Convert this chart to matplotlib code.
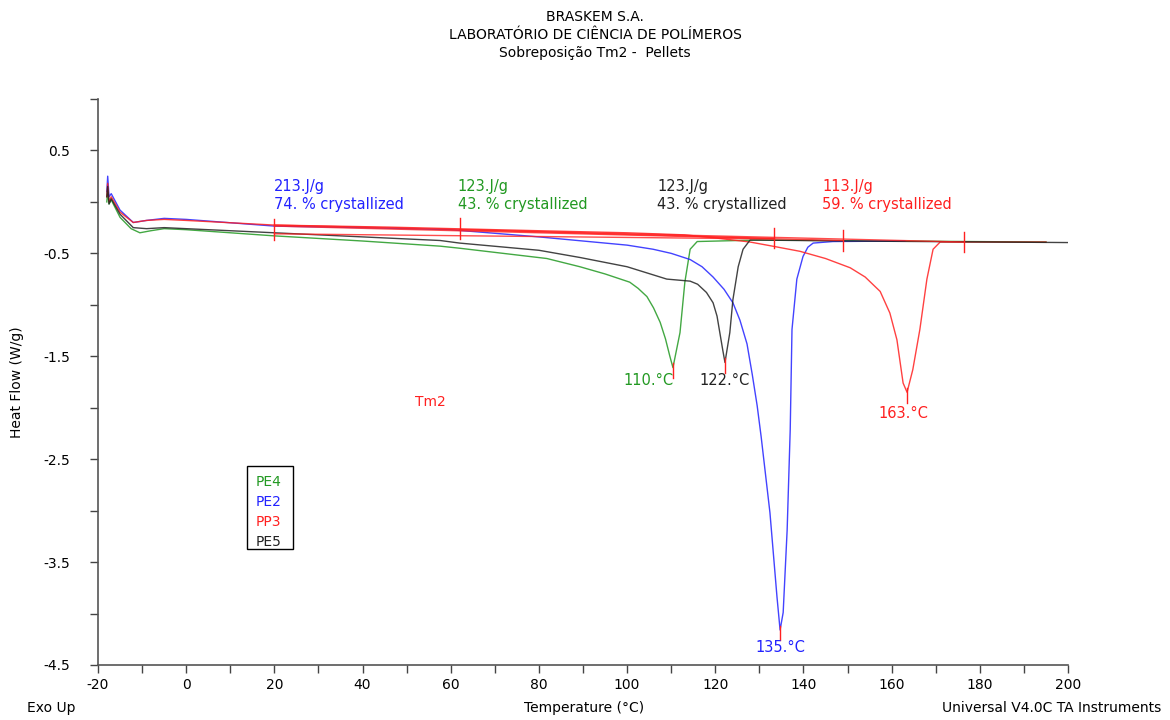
import matplotlib
matplotlib.use('Agg')
import matplotlib.pyplot as plt
from matplotlib.ticker import MultipleLocator

plt.rcParams['axes.unicode_minus'] = False

# curves read from the DSC overlay (temperature in C, heat flow in W/g)
pe4_t = [-18.0, -17.8, -17.5, -17.0, -15.0, -12.5, -10.5, -8.0, -5.0, 0.0, 10.0, 20.0, 40.0, 57.6, 62.0,
         81.8, 89.3, 95.0, 100.6, 102.5, 104.5, 106.0, 107.5, 108.7, 109.7, 110.4, 112.0, 113.1, 114.3,
         115.9, 130.0, 160.0, 195.0]
pe4_hf = [0.00, 0.10, -0.02, 0.02, -0.15, -0.26, -0.30, -0.28, -0.26, -0.27, -0.30, -0.33, -0.38, -0.43, -0.45,
          -0.55, -0.63, -0.70, -0.78, -0.84, -0.92, -1.03, -1.17, -1.33, -1.50, -1.61, -1.27, -0.78, -0.46,
          -0.385, -0.37, -0.38, -0.39]

pe2_t = [-18.0, -17.8, -17.5, -17.0, -15.0, -12.0, -9.0, -5.0, 0.0, 20.0, 40.0, 60.0, 80.0, 90.0, 100.0,
         105.9, 110.0, 114.3, 117.0, 119.5, 122.0, 124.0, 125.6, 127.2, 128.4, 129.5, 130.4, 132.4, 134.0,
         134.7, 135.4, 136.3, 137.0, 137.4, 138.5, 139.9, 141.0, 142.2, 146.7, 163.0]
pe2_hf = [0.10, 0.25, 0.05, 0.08, -0.08, -0.20, -0.18, -0.16, -0.17, -0.235, -0.25, -0.27, -0.34, -0.38, -0.42,
          -0.46, -0.50, -0.56, -0.63, -0.73, -0.85, -0.98, -1.15, -1.38, -1.68, -1.98, -2.28, -3.02, -3.84,
          -4.16, -3.99, -3.19, -2.21, -1.24, -0.75, -0.53, -0.44, -0.40, -0.385, -0.38]

pp3_t = [-18.0, -17.8, -17.5, -17.0, -15.0, -12.0, -9.0, -5.0, 0.0, 20.0, 46.0, 80.0, 100.0, 113.0, 120.0,
         127.9, 133.0, 139.2, 145.0, 150.6, 154.0, 157.4, 159.6, 161.2, 162.6, 163.5, 164.8, 166.4, 168.0,
         169.4, 171.0, 195.0]
pp3_hf = [0.05, 0.18, 0.00, 0.05, -0.10, -0.20, -0.18, -0.17, -0.18, -0.225, -0.245, -0.28, -0.30, -0.32, -0.35,
          -0.39, -0.43, -0.48, -0.55, -0.64, -0.73, -0.87, -1.08, -1.34, -1.76, -1.85, -1.63, -1.24, -0.75,
          -0.46, -0.39, -0.39]

pe5_t = [-18.0, -17.8, -17.5, -17.0, -15.0, -12.0, -9.0, -5.0, 0.0, 20.0, 40.0, 57.6, 62.0, 80.0, 89.3,
         100.0, 109.0, 114.3, 116.0, 118.0, 119.5, 120.4, 121.7, 122.2, 123.3, 124.0, 125.2, 126.3, 127.9,
         150.0, 200.0]
pe5_hf = [0.05, 0.15, -0.02, 0.03, -0.12, -0.25, -0.26, -0.25, -0.26, -0.30, -0.34, -0.375, -0.40, -0.47, -0.54,
          -0.63, -0.75, -0.77, -0.80, -0.88, -0.98, -1.11, -1.44, -1.56, -1.27, -0.95, -0.63, -0.46, -0.37,
          -0.38, -0.395]

names = ['PE4', 'PE2', 'PP3', 'PE5']
colors = ['#229922', '#2222ff', '#ff2020', '#222222']

# integration baselines (start T, start HF, end T, end HF)
base_t0 = [62.0, 20.0, 20.0, 20.0]
base_hf0 = [-0.27, -0.235, -0.225, -0.31]
base_t1 = [133.3, 149.0, 176.4, 133.3]
base_hf1 = [-0.355, -0.375, -0.39, -0.36]
limit_t = [20.0, 62.0, 133.3, 149.0, 176.4]
limit_hf = [-0.27, -0.26, -0.35, -0.375, -0.39]

enthalpy = ['123.J/g', '213.J/g', '113.J/g', '123.J/g']
crystal = ['43. % crystallized', '74. % crystallized', '59. % crystallized', '43. % crystallized']
text_t = [61.6, 20.0, 144.2, 106.8]

peak_t = [110.4, 134.7, 163.5, 122.2]
peak_hf = [-1.61, -4.16, -1.85, -1.56]
peak_lbl = ['110.°C', '135.°C', '163.°C', '122.°C']
peak_lbl_t = [104.8, 134.8, 162.7, 122.2]
peak_lbl_hf = [-1.74, -4.33, -2.06, -1.74]

fig = plt.figure(figsize=(11.7, 7.2), dpi=100)
ax = fig.add_axes([98 / 1170, 55 / 720, 970 / 1170, 566 / 720])

curves = [(pe4_t, pe4_hf), (pe2_t, pe2_hf), (pp3_t, pp3_hf), (pe5_t, pe5_hf)]
for (t, hf), c in zip(curves, colors):
    ax.plot(t, hf, color=c, lw=1.0, alpha=0.85)

for i in range(4):
    ax.plot([base_t0[i], base_t1[i]], [base_hf0[i], base_hf1[i]], color='#ff2020', lw=1.0, alpha=0.8)
for t, hf in zip(limit_t, limit_hf):
    ax.plot([t, t], [hf - 0.1, hf + 0.1], color='#ff2020', lw=1.0)
for t, hf in zip(peak_t, peak_hf):
    ax.plot([t, t], [hf + 0.04, hf - 0.1], color='#ff2020', lw=1.0)

for i in range(4):
    ax.text(text_t[i], 0.15, enthalpy[i], color=colors[i], fontsize=10.5, va='center', ha='left')
    ax.text(text_t[i], -0.025, crystal[i], color=colors[i], fontsize=10.5, va='center', ha='left')
    ax.text(peak_lbl_t[i], peak_lbl_hf[i], peak_lbl[i], color=colors[i], fontsize=10.5, va='center', ha='center')

ax.text(55.3, -1.94, 'Tm2', color='#ff2020', fontsize=10, va='center', ha='center')

# legend box
ax.add_patch(plt.Rectangle((13.8, -3.37), 10.4, 0.80, fill=False, ec='black', lw=1.0))
for k, (nm, c) in enumerate(zip(names, colors)):
    ax.text(15.7, -2.72 - k * 0.195, nm, color=c, fontsize=10, va='center', ha='left')

ax.set_xlim(-20, 200)
ax.set_ylim(-4.5, 1.0)
ax.xaxis.set_major_locator(MultipleLocator(20))
ax.xaxis.set_minor_locator(MultipleLocator(10))
ax.set_yticks([0.5, -0.5, -1.5, -2.5, -3.5, -4.5])
ax.yaxis.set_minor_locator(MultipleLocator(0.5))
ax.tick_params(which='both', direction='out', length=6, width=1, colors='#444444', labelsize=10,
               labelcolor='black')
ax.tick_params(axis='y', which='major', pad=14)
for s in ['top', 'right']:
    ax.spines[s].set_visible(False)
for s in ['left', 'bottom']:
    ax.spines[s].set_color('#555555')
    ax.spines[s].set_linewidth(1.2)

ax.set_ylabel('Heat Flow (W/g)', fontsize=10, labelpad=14)
fig.text(584 / 1170, 1 - 708 / 720, 'Temperature (°C)', fontsize=10, ha='center', va='center')
fig.text(27 / 1170, 1 - 708 / 720, 'Exo Up', fontsize=10, ha='left', va='center')
fig.text(942 / 1170, 1 - 708 / 720, 'Universal V4.0C TA Instruments', fontsize=10, ha='left', va='center')

fig.text(595 / 1170, 1 - 17 / 720, 'BRASKEM S.A.', fontsize=10, ha='center', va='center')
fig.text(595 / 1170, 1 - 35 / 720, 'LABORATÓRIO DE CIÊNCIA DE POLÍMEROS', fontsize=10, ha='center', va='center')
fig.text(595 / 1170, 1 - 53 / 720, 'Sobreposição Tm2 -  Pellets', fontsize=10, ha='center', va='center')

fig.savefig('out.png', dpi=100)
